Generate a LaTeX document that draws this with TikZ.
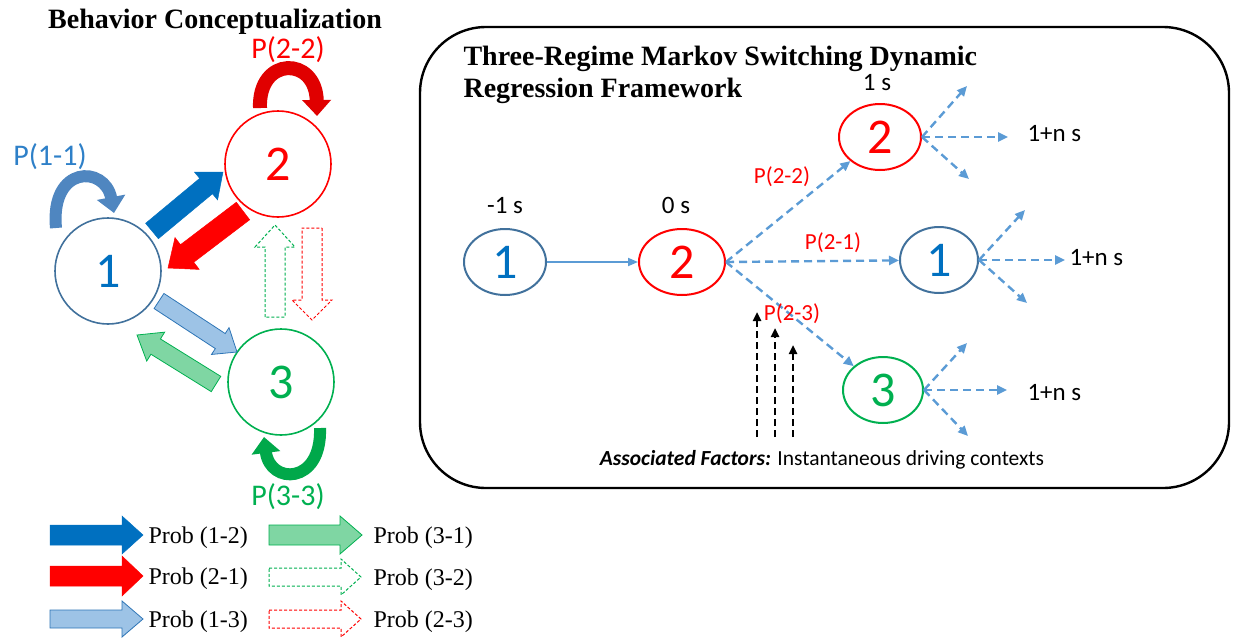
\documentclass[tikz,border=0pt]{standalone}
\usepackage{fontspec}
\setmainfont{Liberation Serif}
\newfontfamily\calfont{Carlito}
\usetikzlibrary{calc,arrows.meta,shapes.geometric}
\definecolor{cblue}{HTML}{0070C0}
\definecolor{csteel}{HTML}{41719C}
\definecolor{cred}{HTML}{FF0000}
\definecolor{cgreen}{HTML}{00B050}
\definecolor{lblue}{HTML}{9DC3E6}
\definecolor{lbluedge}{HTML}{2E75B6}
\definecolor{lgreen}{HTML}{7FD6A3}
\definecolor{dblue}{HTML}{5B9BD5}
\definecolor{loopblue}{HTML}{4F86C0}
\definecolor{loopred}{HTML}{E00000}
\definecolor{loopgreen}{HTML}{00A84A}
\definecolor{plblue}{HTML}{2E80C8}
\newcommand\blockarrow[6]{%
  \coordinate (bah) at ($(#3)!#6!(#2)$);
  \draw[#1] ($(#2)!#4!90:(#3)$) -- ($(bah)!#4!90:(#3)$) -- ($(bah)!#5!90:(#3)$) -- (#3)
    -- ($(bah)!#5!-90:(#3)$) -- ($(bah)!#4!-90:(#3)$) -- ($(#2)!#4!-90:(#3)$) -- cycle;}
\begin{document}
\begin{tikzpicture}[x=1pt,y=-1pt,
  snum/.style={circle, draw, line width=1.6pt, minimum size=106pt, inner sep=0pt, fill=white, font=\calfont\fontsize{50}{50}\selectfont},
  rnode/.style={ellipse, draw, line width=2pt, minimum width=82pt, minimum height=66pt, inner sep=0pt, font=\calfont\fontsize{50}{50}\selectfont},
  plab/.style={font=\calfont\fontsize{23}{23}\selectfont, text=cred},
  bigp/.style={font=\calfont\fontsize{30}{30}\selectfont},
  tlab/.style={font=\calfont\fontsize{25}{25}\selectfont},
  dasharr/.style={draw=dblue, line width=2.4pt, dash pattern=on 8pt off 5pt, -{Triangle[length=10pt,width=9pt]}},
  fact/.style={draw=black, line width=2.4pt, dash pattern=on 7pt off 4pt, -{Triangle[length=9pt,width=8pt]}},
  legtxt/.style={anchor=base west, font=\fontsize{24}{24}\selectfont},
  ttl/.style={font=\bfseries\fontsize{28}{28}\selectfont},
  selfloop/.style={line width=#1, -{Triangle[length=16pt,width=28pt]}},
  solidblue/.style={fill=cblue, draw=cblue, line width=0.5pt},
  solidred/.style={fill=cred, draw=cred, line width=0.5pt},
  paleblue/.style={fill=lblue, draw=lbluedge, line width=0.8pt},
  palegreen/.style={fill=lgreen, draw=cgreen, line width=0.8pt},
  dashgreen/.style={fill=white, draw=cgreen, line width=1pt, dash pattern=on 3pt off 2pt},
  dashred/.style={fill=white, draw=cred, line width=1pt, dash pattern=on 3pt off 2pt}]
\useasboundingbox (0,0) rectangle (1236,640);

% ---------------- left part ----------------
\node[ttl, anchor=base] (t1) at (215,28) {Behavior Conceptualization};

\node[snum, draw=csteel, text=cblue] (c1) at (108,271) {1};
\node[snum, draw=cred, text=cred] (c2) at (278,164) {2};
\node[snum, draw=cgreen, text=cgreen] (c3) at (281,382) {3};

% block arrows between states
\coordinate (a12s) at (152,231); \coordinate (a12e) at (223,172);
\coordinate (a21s) at (243,211); \coordinate (a21e) at (168,268);
\coordinate (a13s) at (159,301); \coordinate (a13e) at (237,352);
\coordinate (a31s) at (216,384); \coordinate (a31e) at (137,335);
\coordinate (a32s) at (275,317); \coordinate (a32e) at (275,225);
\coordinate (a23s) at (312,228); \coordinate (a23e) at (312,320);
\blockarrow{solidblue}{a12s}{a12e}{10pt}{18pt}{22pt}
\blockarrow{solidred}{a21s}{a21e}{11pt}{20pt}{24pt}
\blockarrow{paleblue}{a13s}{a13e}{9pt}{16pt}{20pt}
\blockarrow{palegreen}{a31s}{a31e}{9pt}{17pt}{22pt}
\blockarrow{dashgreen}{a32s}{a32e}{10pt}{20pt}{22pt}
\blockarrow{dashred}{a23s}{a23e}{10pt}{20pt}{20pt}

% self loops
\coordinate (l1s) at (56,228); \coordinate (l1e) at (114,213);
\coordinate (l2s) at (260,108); \coordinate (l2e) at (317,116);
\coordinate (l3s) at (320,428); \coordinate (l3e) at (264,437);
\draw[selfloop=12pt, loopblue] (l1s) .. controls (50,165) and (105,165) .. (l1e);
\draw[selfloop=14pt, loopred] (l2s) .. controls (258,56) and (316,56) .. (l2e);
\draw[selfloop=12pt, loopgreen] (l3s) .. controls (322,485) and (270,485) .. (l3e);

\node[bigp, text=plblue] (p11) at (50,157) {P(1-1)};
\node[bigp, text=cred] (p22) at (288,50) {P(2-2)};
\node[bigp, text=cgreen] (p33) at (288,497) {P(3-3)};

% legend
\coordinate (g1s) at (50,535); \coordinate (g1e) at (143,535);
\coordinate (g2s) at (50,576); \coordinate (g2e) at (143,576);
\coordinate (g3s) at (50,619); \coordinate (g3e) at (143,619);
\coordinate (g4s) at (269,535); \coordinate (g4e) at (362,535);
\coordinate (g5s) at (269,577); \coordinate (g5e) at (361,577);
\coordinate (g6s) at (269,619); \coordinate (g6e) at (361,619);
\blockarrow{solidblue}{g1s}{g1e}{10pt}{19pt}{21pt}
\blockarrow{solidred}{g2s}{g2e}{10pt}{20pt}{21pt}
\blockarrow{paleblue}{g3s}{g3e}{9pt}{18pt}{21pt}
\blockarrow{palegreen}{g4s}{g4e}{10pt}{19pt}{22pt}
\blockarrow{dashgreen}{g5s}{g5e}{9pt}{18pt}{20pt}
\blockarrow{dashred}{g6s}{g6e}{9pt}{18pt}{20pt}
\node[legtxt] (lt1) at (145,543) {Prob (1-2)};
\node[legtxt] (lt2) at (145,584) {Prob (2-1)};
\node[legtxt] (lt3) at (145,627) {Prob (1-3)};
\node[legtxt] (lt4) at (370,543) {Prob (3-1)};
\node[legtxt] (lt5) at (370,585) {Prob (3-2)};
\node[legtxt] (lt6) at (370,627) {Prob (2-3)};

% ---------------- right part ----------------
\draw[line width=2.4pt, rounded corners=66pt] (420,27) rectangle (1229,488);
\node[ttl, anchor=base west] (t2a) at (460,65) {Three-Regime Markov Switching Dynamic};
\node[ttl, anchor=base west] (t2b) at (460,97) {Regression Framework};

\node[rnode, draw=csteel, text=cblue] (r1) at (505,262) {1};
\node[rnode, draw=cred, text=cred, minimum width=86pt] (r2) at (682,262) {2};
\node[rnode, draw=cred, text=cred] (r2t) at (880,137) {2};
\node[rnode, draw=csteel, text=cblue, minimum width=78pt] (r1m) at (939,260) {1};
\node[rnode, draw=cgreen, text=cgreen, minimum width=80pt] (r3) at (883,390) {3};

\node[tlab] (tm1) at (505,206) {-1 s};
\node[tlab] (t0) at (676,205) {0 s};
\node[tlab] (t1s) at (877,83) {1 s};

\draw[dblue, line width=1.8pt, -{Triangle[length=10pt,width=8pt]}] (r1) -- (r2);
\draw[dasharr] (r2.east) -- (r2t);
\draw[dasharr] (r2.east) -- (r1m);
\draw[dasharr] (r2.east) -- (r3);

\node[plab] (q22) at (782,177) {P(2-2)};
\node[plab] (q21) at (833,243) {P(2-1)};
\node[plab] (q23) at (792,314) {P(2-3)};

% fan-outs
\coordinate (f1u) at (967,86); \coordinate (f1r) at (1008,137); \coordinate (f1d) at (969,179);
\coordinate (f2u) at (1025,210); \coordinate (f2r) at (1065,260); \coordinate (f2d) at (1027,303);
\coordinate (f3u) at (967,343); \coordinate (f3r) at (1007,390); \coordinate (f3d) at (968,436);
\draw[dasharr] (r2t.east) -- (f1u);
\draw[dasharr] (r2t.east) -- (f1r);
\draw[dasharr] (r2t.east) -- (f1d);
\draw[dasharr] (r1m.east) -- (f2u);
\draw[dasharr] (r1m.east) -- (f2r);
\draw[dasharr] (r1m.east) -- (f2d);
\draw[dasharr] (r3.east) -- (f3u);
\draw[dasharr] (r3.east) -- (f3r);
\draw[dasharr] (r3.east) -- (f3d);
\node[tlab, anchor=west] (n1) at (1024,134) {1+n s};
\node[tlab, anchor=west] (n2) at (1066,258) {1+n s};
\node[tlab, anchor=west] (n3) at (1024,393) {1+n s};

% associated factors
\coordinate (b1s) at (757,437); \coordinate (b1e) at (757,312);
\coordinate (b2s) at (775,437); \coordinate (b2e) at (775,328);
\coordinate (b3s) at (793,437); \coordinate (b3e) at (793,345);
\draw[fact] (b1s) -- (b1e);
\draw[fact] (b2s) -- (b2e);
\draw[fact] (b3s) -- (b3e);
\node[font=\calfont\fontsize{21.5}{21.5}\selectfont] (af) at (822,460) {\textbf{\textit{Associated Factors:}} Instantaneous driving contexts};
\end{tikzpicture}
\end{document}
